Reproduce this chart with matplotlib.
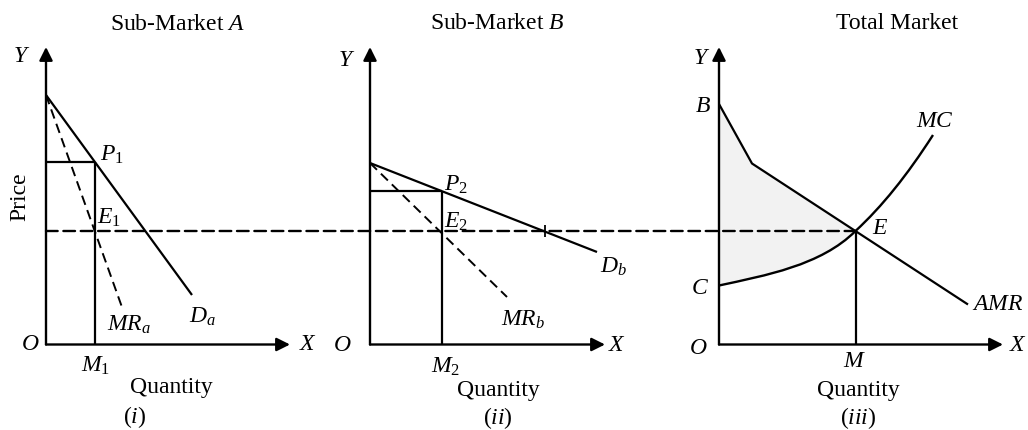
import matplotlib
matplotlib.use("Agg")
import matplotlib.pyplot as plt
from matplotlib.patches import ConnectionPatch, PathPatch
from matplotlib.path import Path

plt.rcParams["font.family"] = ["Liberation Serif", "DejaVu Serif"]
plt.rcParams["mathtext.fontset"] = "custom"
plt.rcParams["mathtext.rm"] = "Liberation Serif"
plt.rcParams["mathtext.it"] = "Liberation Serif:italic"
plt.rcParams["mathtext.bf"] = "Liberation Serif:bold"
plt.rcParams["lines.scale_dashes"] = False

# price at which MC = combined MR (the long dashed line)
mc_level = 11.35

# sub-market A
da_q = [0, 14.6]
da_p = [24.95, 4.95]
mra_q = [0, 7.7]
mra_p = [24.95, 3.45]
q1, p1 = 4.9, 18.25

# sub-market B
db_q = [0, 22.7]
db_p = [18.15, 9.25]
mrb_q = [0, 13.7]
mrb_p = [18.15, 4.75]
q2, p2 = 7.2, 15.35
db_tick_q = 17.5

# total market
amr_q = [0, 3.3, 24.9]
amr_p = [24.05, 18.1, 4.0]
q_e = 13.65
# MC drawn as two cubic bezier pieces: C -> E -> top
mc_pts = [(0, 5.9), (4.6, 6.9), (10.2, 7.9), (13.65, 11.35),
          (16.3, 13.8), (18.8, 16.9), (21.4, 20.95)]

# axis arrow tips (x-axis length per panel, y-axis height)
x_tips = [24.4, 23.5, 28.4]
y_tip = 29.75

W, H = 1028, 430
fig = plt.figure(figsize=(W / 100, H / 100), dpi=100)

origins = [46, 370, 719]
axes = []
for ox in origins:
    ax = fig.add_axes([ox / W, (H - 344.5) / H, 280 / W, 300 / H])
    ax.set_xlim(0, 28)
    ax.set_ylim(0, 30)
    ax.axis("off")
    axes.append(ax)
ax1, ax2, ax3 = axes

solid = dict(color="black", lw=1.6, solid_capstyle="butt")
dash_mr = dict(color="black", lw=1.4, dashes=(7, 4))
fs = 17


def txt(ax, x, y, s, size=fs, **kw):
    ax.text(x, y, s, fontsize=size, ha="center", va="center",
            clip_on=False, **kw)


def draw_axes(ax, xt):
    arrow = dict(arrowstyle="-|>", mutation_scale=20, lw=1.7,
                 color="black", shrinkA=0, shrinkB=0)
    ax.annotate("", xy=(0, y_tip), xytext=(0, 0), arrowprops=arrow,
                annotation_clip=False)
    ax.annotate("", xy=(xt, 0), xytext=(0, 0), arrowprops=arrow,
                annotation_clip=False)


for ax, xt in zip(axes, x_tips):
    draw_axes(ax, xt)

# ---- panel (i)
ax1.plot(da_q, da_p, **solid)
ax1.plot(mra_q, mra_p, **dash_mr)
ax1.plot([0, q1], [p1, p1], **solid)
ax1.plot([q1, q1], [0, p1], **solid)
txt(ax1, 13.2, 32.05, "Sub-Market $A$")
txt(ax1, -2.4, 28.75, "$Y$")
txt(ax1, -1.6, 0, "$O$")
txt(ax1, 26.2, 0, "$X$")
txt(ax1, 5.0, -2.1, "$M_1$")
txt(ax1, 12.5, -4.3, "Quantity")
txt(ax1, 8.9, -7.3, "($i$)")
txt(ax1, -2.6, 14.75, "Price", rotation=90)
txt(ax1, 6.6, 19.0, "$P_1$")
txt(ax1, 6.3, 12.65, "$E_1$")
txt(ax1, 8.3, 1.95, "$MR_a$")
txt(ax1, 15.6, 2.75, "$D_a$")

# ---- panel (ii)
ax2.plot(db_q, db_p, **solid)
ax2.plot(mrb_q, mrb_p, **dash_mr)
ax2.plot([0, q2], [p2, p2], **solid)
ax2.plot([q2, q2], [0, p2], **solid)
ax2.plot([db_tick_q], [mc_level], marker="|", ms=9, mew=1.3, color="black")
txt(ax2, 12.7, 32.1, "Sub-Market $B$")
txt(ax2, -2.3, 28.45, "$Y$")
txt(ax2, -2.8, -0.1, "$O$")
txt(ax2, 24.7, -0.1, "$X$")
txt(ax2, 7.6, -2.2, "$M_2$")
txt(ax2, 12.8, -4.6, "Quantity")
txt(ax2, 12.8, -7.35, "($ii$)")
txt(ax2, 8.6, 15.95, "$P_2$")
txt(ax2, 8.6, 12.3, "$E_2$")
txt(ax2, 24.4, 7.8, "$D_b$")
txt(ax2, 15.3, 2.45, "$MR_b$")

# ---- panel (iii)
codes = [Path.MOVETO, Path.LINETO, Path.LINETO, Path.LINETO,
         Path.CURVE4, Path.CURVE4, Path.CURVE4, Path.CLOSEPOLY]
verts = [mc_pts[0], (0, amr_p[0]), (amr_q[1], amr_p[1]), mc_pts[3],
         mc_pts[2], mc_pts[1], mc_pts[0], mc_pts[0]]
ax3.add_patch(PathPatch(Path(verts, codes), facecolor="#f2f2f2",
                        edgecolor="none", lw=0))

ax3.plot(amr_q, amr_p, **solid)
mc_codes = [Path.MOVETO] + [Path.CURVE4] * 6
ax3.add_patch(PathPatch(Path(mc_pts, mc_codes), facecolor="none",
                        edgecolor="black", lw=1.7))
ax3.plot([q_e, q_e], [0, mc_level], **solid)
txt(ax3, 17.8, 32.1, "Total Market")
txt(ax3, -1.75, 28.6, "$Y$")
txt(ax3, -1.6, 23.8, "$B$")
txt(ax3, -1.9, 5.6, "$C$")
txt(ax3, -2.1, -0.4, "$O$")
txt(ax3, 29.9, -0.1, "$X$")
txt(ax3, 13.6, -1.7, "$M$")
txt(ax3, 13.9, -4.6, "Quantity")
txt(ax3, 13.9, -7.35, "($iii$)")
txt(ax3, 21.6, 22.3, "$MC$")
txt(ax3, 16.1, 11.6, "$E$")
txt(ax3, 27.9, 3.95, "$AMR$")

# long dashed line from panel (i) price axis to E in panel (iii)
con = ConnectionPatch(xyA=(0, mc_level), coordsA="data", axesA=ax1,
                      xyB=(q_e, mc_level), coordsB="data", axesB=ax3,
                      color="black", lw=1.7, linestyle=(0, (8.4, 4.1)))
fig.add_artist(con)

fig.savefig("out.png", dpi=100)
